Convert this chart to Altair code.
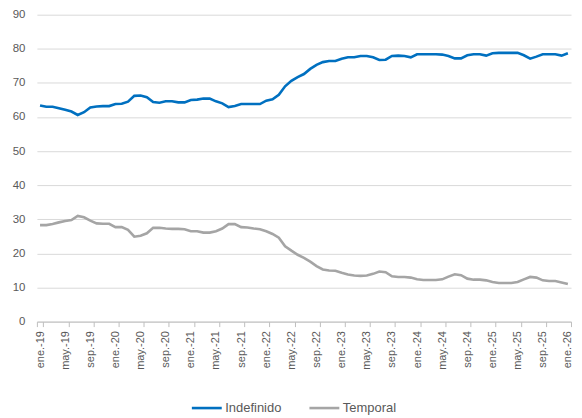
import altair as alt
import pandas as pd

month_names = ["ene.", "feb.", "mar.", "abr.", "may.", "jun.", "jul.", "ago.", "sep.", "oct.", "nov.", "dic."]
years = ["19", "20", "21", "22", "23", "24", "25", "26"]
periods = [f"{m}-{y}" for y in years for m in month_names][:85]
tick_labels = periods[::4]

series_names = ["Indefinido", "Temporal"]
series_colors = ["#0070C0", "#A5A5A5"]

indefinido = [
    63.4, 63.0, 63.0, 62.6, 62.1, 61.6, 60.6, 61.4, 62.8, 63.1, 63.2, 63.2,
    63.8, 63.9, 64.5, 66.2, 66.3, 65.8, 64.4, 64.2, 64.6, 64.6, 64.3, 64.3,
    65.0, 65.1, 65.4, 65.4, 64.6, 64.0, 62.9, 63.2, 63.8, 63.8, 63.8, 63.8,
    64.8, 65.2, 66.5, 69.0, 70.6, 71.7, 72.6, 74.1, 75.3, 76.1, 76.4, 76.4,
    77.1, 77.5, 77.5, 77.9, 77.9, 77.5, 76.7, 76.8, 77.9, 78.0, 77.9, 77.5,
    78.4, 78.4, 78.4, 78.4, 78.3, 77.9, 77.2, 77.2, 78.1, 78.4, 78.4, 78.0,
    78.7, 78.8, 78.8, 78.8, 78.8, 78.1, 77.1, 77.7, 78.4, 78.4, 78.4, 78.0,
    78.7,
]
temporal = [
    28.3, 28.3, 28.6, 29.1, 29.5, 29.8, 31.0, 30.6, 29.6, 28.8, 28.7, 28.7,
    27.7, 27.7, 26.9, 24.9, 25.2, 25.9, 27.5, 27.5, 27.3, 27.2, 27.2, 27.1,
    26.5, 26.5, 26.1, 26.1, 26.5, 27.3, 28.6, 28.6, 27.7, 27.6, 27.3, 27.1,
    26.5, 25.7, 24.6, 22.1, 20.8, 19.6, 18.7, 17.6, 16.3, 15.3, 15.0, 14.9,
    14.3, 13.8, 13.5, 13.4, 13.5, 14.0, 14.7, 14.5, 13.3, 13.1, 13.1, 12.9,
    12.4, 12.2, 12.2, 12.2, 12.4, 13.2, 13.9, 13.6, 12.6, 12.3, 12.3, 12.1,
    11.6, 11.3, 11.3, 11.3, 11.6, 12.4, 13.1, 12.9, 12.1, 11.9, 11.9, 11.5,
    11.0,
]

df = pd.DataFrame({
    "periodo": periods * 2,
    "valor": indefinido + temporal,
    "serie": [series_names[0]] * len(indefinido) + [series_names[1]] * len(temporal),
})

FONT = "Liberation Sans"
TXT = "#595959"

chart = alt.Chart(df).mark_line(strokeWidth=2.6).encode(
    x=alt.X(
        "periodo:O",
        sort=periods,
        scale=alt.Scale(type="band", paddingInner=0, paddingOuter=0),
        axis=alt.Axis(
            values=tick_labels, title=None, labelAngle=270, tickBand="extent",
            grid=False, domainColor="#BFBFBF", tickColor="#BFBFBF", tickSize=5,
            labelFont=FONT, labelFontSize=11, labelColor=TXT, labelPadding=4,
        ),
    ),
    y=alt.Y(
        "valor:Q",
        scale=alt.Scale(domain=[0, 90]),
        axis=alt.Axis(
            values=list(range(0, 91, 10)), title=None, domain=False, ticks=False,
            gridColor="#D9D9D9", labelPadding=12,
            labelFont=FONT, labelFontSize=11.5, labelColor=TXT,
        ),
    ),
    color=alt.Color(
        "serie:N",
        scale=alt.Scale(domain=series_names, range=series_colors),
        legend=alt.Legend(
            orient="none", legendX=154, legendY=378, title=None, direction="horizontal",
            symbolType="stroke", symbolSize=900, symbolStrokeWidth=2.6,
            labelFont=FONT, labelFontSize=13, labelColor=TXT, labelOffset=2,
            columnPadding=22,
        ),
    ),
).properties(
    width=536, height=308, padding={"left": 4, "top": 0, "right": 0, "bottom": 0},
).configure_view(stroke=None)

chart.save("out.html", embed_options={"renderer": "svg", "actions": False})
